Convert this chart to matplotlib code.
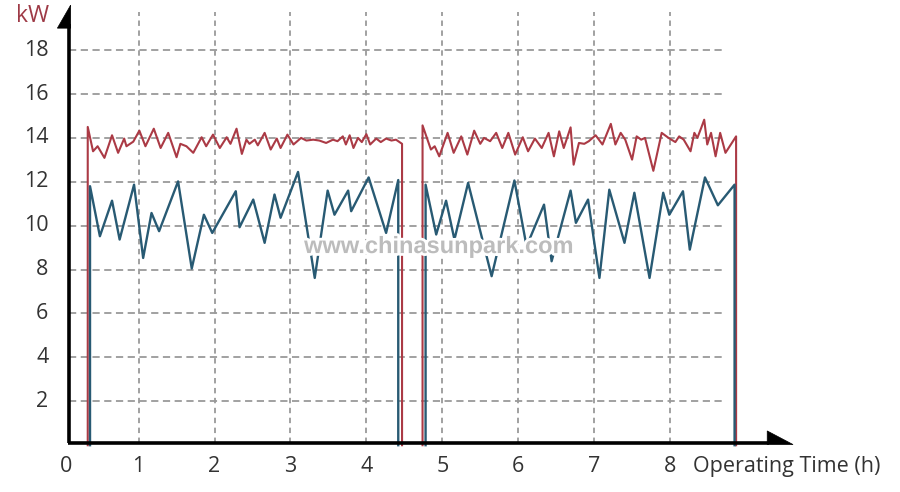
import matplotlib
matplotlib.use("Agg")
import matplotlib.pyplot as plt
from matplotlib.patches import Polygon
import matplotlib.patheffects as pe

# ---- data ----
x_ticks = [0, 1, 2, 3, 4, 5, 6, 7, 8]
y_ticks = [2, 4, 6, 8, 10, 12, 14, 16, 18]

red1_x = [0.33, 0.33, 0.40, 0.46, 0.55, 0.65, 0.73, 0.81, 0.84, 0.93, 1.01, 1.09, 1.20, 1.29, 1.39,
          1.50, 1.55, 1.63, 1.72, 1.83, 1.89, 1.98, 2.07, 2.16, 2.21, 2.29, 2.36, 2.42, 2.46, 2.53,
          2.57, 2.66, 2.74, 2.82, 2.87, 2.96, 3.04, 3.14, 3.21, 3.30, 3.38, 3.47, 3.56, 3.62, 3.69,
          3.73, 3.78, 3.83, 3.89, 3.94, 4.00, 4.05, 4.13, 4.19, 4.26, 4.33, 4.39, 4.47, 4.47]
red1_y = [0, 14.5, 13.39, 13.62, 13.09, 14.12, 13.32, 13.97, 13.62, 13.83, 14.33, 13.62, 14.42, 13.54, 14.23,
          13.12, 13.73, 13.62, 13.32, 14.03, 13.62, 14.15, 13.54, 14.03, 13.73, 14.42, 13.27, 13.92, 13.73, 13.92,
          13.66, 14.23, 13.47, 13.97, 13.54, 14.15, 13.70, 14.00, 13.88, 13.92, 13.88, 13.77, 13.92, 13.85, 14.07,
          13.70, 14.12, 13.54, 14.00, 13.81, 14.17, 13.70, 13.97, 13.81, 13.97, 13.88, 13.92, 13.73, 0]

red2_x = [4.74, 4.74, 4.85, 4.90, 4.96, 5.07, 5.15, 5.25, 5.33, 5.42, 5.50, 5.55, 5.63, 5.71, 5.79,
          5.87, 5.96, 6.06, 6.13, 6.22, 6.31, 6.40, 6.47, 6.54, 6.60, 6.69, 6.73, 6.80, 6.87, 6.93,
          7.02, 7.11, 7.22, 7.28, 7.35, 7.41, 7.50, 7.56, 7.62, 7.67, 7.78, 7.89, 7.98, 8.07, 8.12,
          8.18, 8.27, 8.32, 8.36, 8.41, 8.45, 8.49, 8.54, 8.60, 8.66, 8.73, 8.87, 8.87]
red2_y = [0, 14.57, 13.47, 13.62, 13.16, 14.23, 13.32, 14.07, 13.24, 14.33, 13.73, 14.00, 13.85, 14.23, 13.54,
          14.23, 13.24, 14.03, 13.39, 13.97, 13.54, 14.23, 13.16, 14.30, 13.54, 14.48, 12.78, 13.77, 13.73, 13.85,
          14.12, 13.70, 14.64, 13.70, 14.23, 13.92, 13.01, 14.07, 13.92, 14.00, 12.50, 14.23, 14.00, 13.81, 14.07,
          13.92, 13.39, 14.23, 14.00, 14.45, 14.83, 13.70, 14.23, 13.16, 14.23, 13.32, 14.07, 0]

blue1_x = [0.36, 0.36, 0.49, 0.65, 0.75, 0.94, 1.06, 1.17, 1.27, 1.52, 1.70, 1.86, 1.97, 2.28, 2.33,
           2.51, 2.66, 2.79, 2.87, 3.10, 3.32, 3.49, 3.58, 3.76, 3.80, 4.03, 4.26, 4.42, 4.42]
blue1_y = [0, 11.8, 9.52, 11.14, 9.37, 11.87, 8.53, 10.58, 9.75, 12.02, 8.05, 10.5, 9.67, 11.57, 9.93,
           11.19, 9.22, 11.42, 10.36, 12.45, 7.62, 11.6, 10.5, 11.6, 10.66, 12.2, 9.67, 12.08, 0]

blue2_x = [4.78, 4.78, 4.92, 5.05, 5.16, 5.34, 5.65, 5.95, 6.11, 6.34, 6.44, 6.69, 6.76, 6.92, 7.07,
           7.20, 7.40, 7.53, 7.73, 7.91, 7.99, 8.17, 8.26, 8.46, 8.63, 8.85, 8.85]
blue2_y = [0, 11.87, 9.6, 11.14, 9.37, 11.95, 7.7, 12.06, 9.06, 10.96, 8.38, 11.6, 10.13, 11.19, 7.62,
           11.64, 9.22, 11.5, 7.62, 11.5, 10.5, 11.57, 8.91, 12.2, 10.93, 11.87, 0]

RED = "#ab3a45"
BLUE = "#285a73"
GRID = "#9a9a9a"
TXT = "#333333"

fig = plt.figure(figsize=(9, 4.92), dpi=100)
ax = fig.add_axes([68 / 900, 49 / 492, 722 / 900, 432.4 / 492])
ax.set_xlim(0.07, 9.58)
ax.set_ylim(0.1, 19.8)
ax.axis("off")

fontfam = ["Open Sans", "DejaVu Sans"]

# grid
for yv in y_ticks:
    ax.plot([0.08, 8.72], [yv, yv], color=GRID, lw=1.3, ls=(0, (4, 2.5)), zorder=1)
for xv in x_ticks[1:]:
    ax.plot([xv, xv], [0.1, 19.75], color=GRID, lw=1.3, ls=(0, (3, 2.5)), zorder=1)

# data lines
ax.plot(red1_x, red1_y, color=RED, lw=1.5, zorder=3, clip_on=False)
ax.plot(red2_x, red2_y, color=RED, lw=1.5, zorder=3, clip_on=False)
ax.plot(blue1_x, blue1_y, color=BLUE, lw=1.7, zorder=4, clip_on=False)
ax.plot(blue2_x, blue2_y, color=BLUE, lw=1.7, zorder=4, clip_on=False)

# axes lines with half-arrowheads
ax.plot([0.085, 0.085], [0.1, 19.2], color="black", lw=2.6, zorder=5, clip_on=False, solid_capstyle="butt")
ax.plot([0.07, 9.3], [0.1, 0.1], color="black", lw=2.6, zorder=5, clip_on=False, solid_capstyle="butt")
ax.add_patch(Polygon([[0.105, 19.0], [0.105, 20.05], [-0.07, 19.0]], closed=True,
                     facecolor="black", edgecolor="black", lw=0.5, clip_on=False, zorder=6))
ax.add_patch(Polygon([[9.28, 0.03], [9.62, 0.03], [9.28, 0.65]], closed=True,
                     facecolor="black", edgecolor="black", lw=0.5, clip_on=False, zorder=6))

# tick labels
for yv in y_ticks:
    ax.text(-0.19, yv, str(yv), ha="right", va="center", fontsize=15.5, color=TXT, family=fontfam)
for xv in x_ticks:
    ax.text(xv if xv else 0.05, -0.95, str(xv), ha="center", va="center", fontsize=15.5, color=TXT,
            family=fontfam)

ax.text(8.3, -0.95, "Operating Time (h)", ha="left", va="center", fontsize=15.5, color=TXT,
        family=fontfam)
ax.text(-0.4, 19.55, "kW", ha="center", va="center", fontsize=16.5, color="#9e3a46", family=fontfam)

# watermark
ax.text(4.96, 9.05, "www.chinasunpark.com", ha="center", va="center", fontsize=17, color="#bcbcbc",
        fontweight="bold", family=["Liberation Sans", "DejaVu Sans"], zorder=7,
        path_effects=[pe.withStroke(linewidth=4, foreground="white")])

fig.savefig("out.png", dpi=100)
